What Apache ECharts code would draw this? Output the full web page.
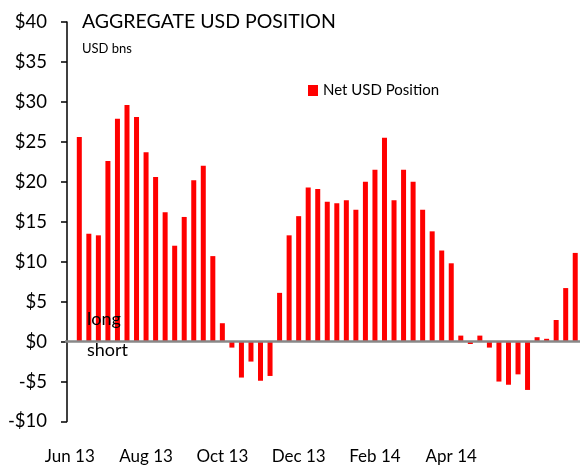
<!DOCTYPE html>
<html>
<head>
<meta charset="utf-8">
<script src="https://cdn.jsdelivr.net/npm/echarts@6/dist/echarts.min.js"></script>
<style>
html,body{margin:0;padding:0;background:#fff;}
#chart{width:588px;height:470px;}
</style>
</head>
<body>
<div id="chart"></div>
<script>
// Weekly net USD position, USD bns (leading empty slot holds the "Jun 13" label)
const netUsd = [null,
  25.6, 13.5, 13.3, 22.6, 27.9, 29.6, 28.1, 23.7, 20.6, 16.2, 12.0, 15.6, 20.2, 22.0, 10.7, 2.3,
  -0.75, -4.5, -2.5, -4.9, -4.3, 6.1, 13.3, 15.7, 19.3, 19.1, 17.5, 17.3, 17.7, 16.5, 20.0, 21.5, 25.5, 17.7, 21.5,
  20.0, 16.5, 13.8, 11.4, 9.8, 0.75, -0.3, 0.75, -0.75, -5.0, -5.4, -4.1, -6.05, 0.55, 0.35, 2.7, 6.7, 11.1
];
const tickLabels = ['Jun 13', 'Aug 13', 'Oct 13', 'Dec 13', 'Feb 14', 'Apr 14'];
const labelEvery = 8;
const categories = netUsd.map((v, i) => 'w' + i);
const yTicks = [-10, -5, 0, 5, 10, 15, 20, 25, 30, 35, 40];

const FONT = 'Lato';
const chart = echarts.init(document.getElementById('chart'));
chart.setOption({
  animation: false,
  backgroundColor: '#fff',
  textStyle: { fontFamily: FONT, color: '#000' },
  title: [
    { text: 'AGGREGATE USD POSITION', left: 77, top: 7,
      textStyle: { fontFamily: FONT, fontSize: 19.5, fontWeight: 'normal', color: '#000' } },
    { text: 'USD bns', left: 77, top: 37,
      textStyle: { fontFamily: FONT, fontSize: 13, fontWeight: 'normal', color: '#000' } },
    { text: 'long', left: 82, top: 305, zlevel: 1, z: 20,
      textStyle: { fontFamily: FONT, fontSize: 18, fontWeight: 'normal', color: '#000' } },
    { text: 'short', left: 82, top: 336, zlevel: 1, z: 20,
      textStyle: { fontFamily: FONT, fontSize: 18, fontWeight: 'normal', color: '#000' } }
  ],
  legend: {
    left: 303, top: 78,
    icon: 'rect', itemWidth: 10, itemHeight: 11, itemGap: 5,
    textStyle: { fontFamily: FONT, fontSize: 15, color: '#000', padding: [0, 0, 0, 0] },
    data: ['Net USD Position']
  },
  grid: { left: 65, right: 8, top: 22, bottom: 48.5, containLabel: false },
  xAxis: {
    type: 'category',
    data: categories,
    boundaryGap: true,
    axisLine: { show: false, onZero: false },
    axisTick: { show: false },
    axisLabel: {
      interval: 0,
      margin: 27,
      fontFamily: FONT, fontSize: 17, color: '#000',
      formatter: (v, i) => (i % labelEvery === 0 && tickLabels[i / labelEvery]) ? tickLabels[i / labelEvery] : ''
    },
    splitLine: { show: false }
  },
  yAxis: {
    type: 'value',
    min: yTicks[0], max: yTicks[yTicks.length - 1], interval: 5,
    offset: -2,
    axisLine: { show: true, lineStyle: { color: '#000', width: 1.5 } },
    axisTick: { show: true, inside: false, length: 6, lineStyle: { color: '#000', width: 1.5 } },
    axisLabel: {
      margin: 20, fontFamily: FONT, fontSize: 18.5, color: '#000',
      formatter: v => (v < 0 ? '-$' + Math.abs(v) : '$' + v)
    },
    splitLine: { show: false }
  },
  series: [{
    name: 'Net USD Position',
    type: 'bar',
    data: netUsd,
    barWidth: 5,
    itemStyle: { color: '#ff0000' },
    markLine: {
      silent: true, symbol: 'none', label: { show: false },
      lineStyle: { color: '#888', width: 2.5, type: 'solid' },
      data: [{ yAxis: 0 }]
    }
  }]
});
</script>
</body>
</html>
